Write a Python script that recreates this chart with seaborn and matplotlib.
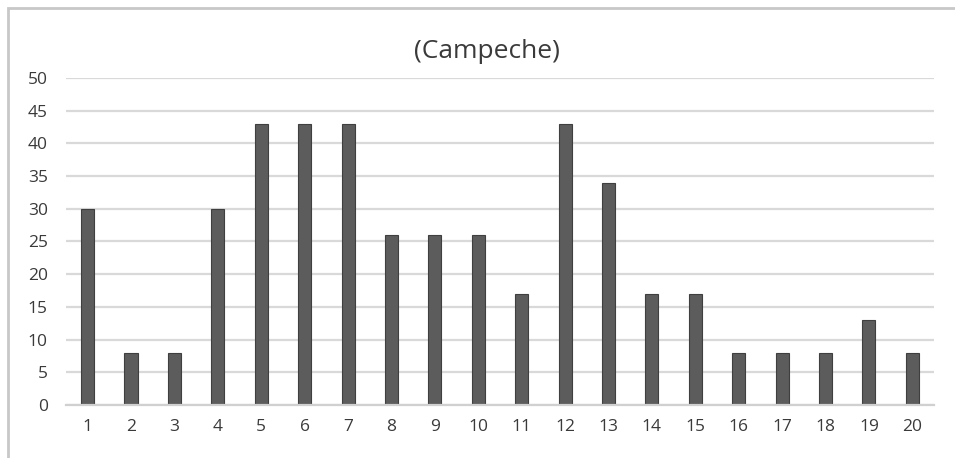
import matplotlib
matplotlib.use("Agg")
import matplotlib.pyplot as plt
import seaborn as sns
import pandas as pd
from matplotlib.patches import Rectangle

categories = [str(i) for i in range(1, 21)]
values = [30, 8, 8, 30, 43, 43, 43, 26, 26, 26, 17, 43, 34, 17, 17, 8, 8, 8, 13, 8]
yticks = [0, 5, 10, 15, 20, 25, 30, 35, 40, 45, 50]
title = "(Campeche)"

sns.set_theme(style="white")
plt.rcParams['font.family'] = ['Open Sans', 'DejaVu Sans']

df = pd.DataFrame({"cat": categories, "val": values})

fig = plt.figure(figsize=(9.55, 4.58), dpi=100)
ax = fig.add_axes([0.069, 0.1157, 0.909, 0.7143])
sns.barplot(data=df, x="cat", y="val", order=categories, color="#5c5c5c",
            saturation=1, width=0.3, edgecolor="#3f3f3f", linewidth=0.8, ax=ax)
ax.set_ylim(0, 50)
ax.set_xlim(-0.5, 19.5)
ax.set_yticks(yticks)
ax.yaxis.grid(True, color="#d9d9d9", linewidth=1.6)
ax.set_axisbelow(True)
for s in ["top", "right", "left"]:
    ax.spines[s].set_visible(False)
ax.spines["bottom"].set_color("#d0d0d0")
ax.spines["bottom"].set_linewidth(1.6)
ax.tick_params(axis="both", length=0, labelsize=12.5, labelcolor="#3a3a3a")
ax.tick_params(axis="x", pad=10)
ax.tick_params(axis="y", pad=13)
ax.set_xlabel("")
ax.set_ylabel("")
fig.text(0.51, 0.887, title, ha="center", va="center", fontsize=19, color="#3a3a3a")
fig.patches.append(Rectangle((0.008, -0.05), 1.05, 1.032, transform=fig.transFigure,
                             fill=False, edgecolor="#c8c8c8", linewidth=2))
fig.savefig("out.png", dpi=100)
